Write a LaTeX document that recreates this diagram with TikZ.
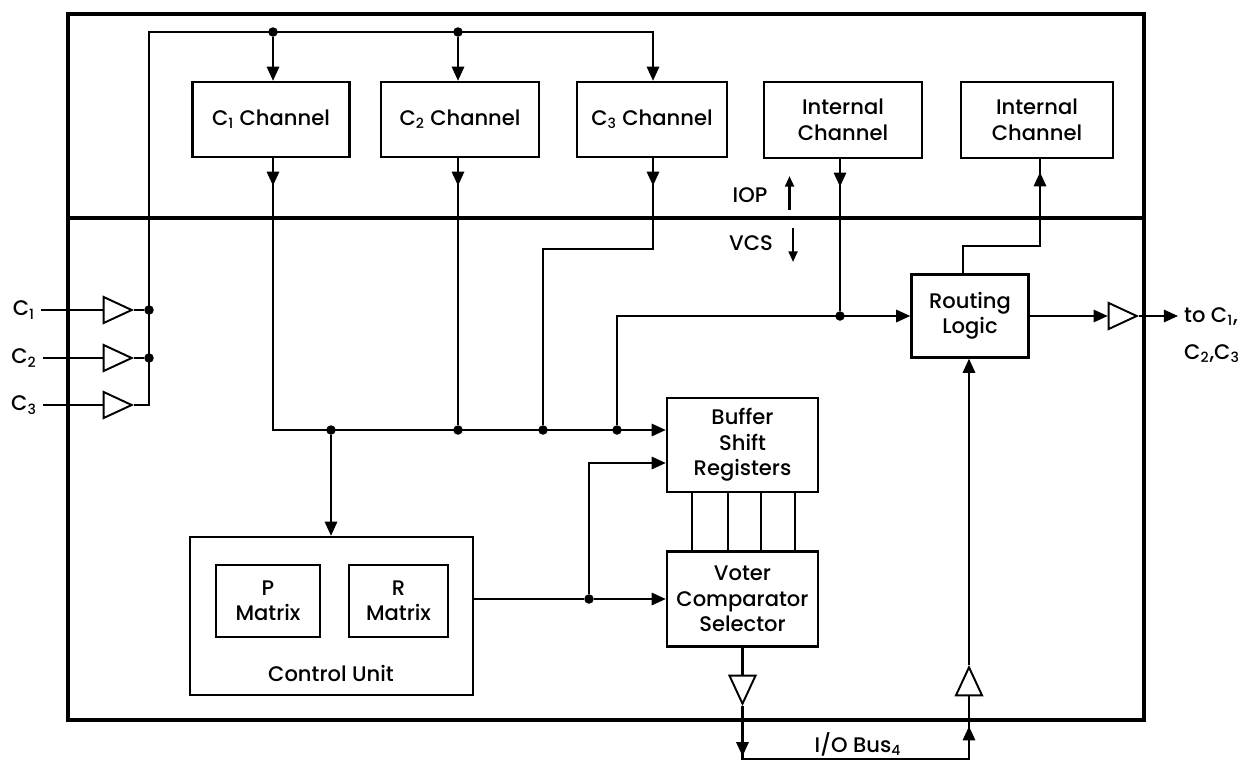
\documentclass[tikz,border=0pt]{standalone}
\usepackage{fontspec}
\setmainfont{Poppins}[UprightFont=* Medium]
\usetikzlibrary{arrows.meta,positioning,calc,shapes.geometric,decorations.markings}

\begin{document}
\begin{tikzpicture}[
  x=0.02cm, y=-0.02cm,
  >={Triangle[length=8pt,width=7pt]},
  blk/.style={draw, line width=1.4pt, align=center, inner sep=2pt,
              font=\fontsize{12}{14.5}\selectfont},
  sz/.style 2 args={minimum width=#1*0.02cm, minimum height=#2*0.02cm},
  wire/.style={line width=1.15pt},
  frm/.style={line width=1.8pt},
  dot/.style={circle, fill, inner sep=0pt, minimum size=0.19cm},
  buf/.style={draw, fill=white, line width=1.1pt, isosceles triangle,
              isosceles triangle stretches, inner sep=0pt,
              minimum width=0.52cm, minimum height=0.56cm},
  lbl/.style={font=\fontsize{12}{14.5}\selectfont, align=left},
  sarr/.style={line width=1.3pt, -{Triangle[length=6pt,width=5pt]}},
  tipat/.style={postaction={decorate}, decoration={markings,
                mark=at position #1 with {\arrow{>}}}},
]
  \useasboundingbox (0,0) rectangle (1245,761);

  %% ── Rahmen IOP / VCS ──
  \draw[frm] (68,14) rectangle (1144,720);
  \draw[frm] (68,218) -- (1144,218);

  %% ── Kanaele ──
  \node[blk, sz={157}{75}] (c1ch) at (271,119.5) {C\textsubscript{1} Channel};
  \node[blk, sz={158}{75}] (c2ch) at (460,119.5) {C\textsubscript{2} Channel};
  \node[blk, sz={150}{75}] (c3ch) at (652,119.5) {C\textsubscript{3} Channel};
  \node[blk, sz={158}{76}] (int1) at (843,120) {Internal\\Channel};
  \node[blk, sz={152}{76}] (int2) at (1037,120) {Internal\\Channel};

  %% ── VCS Bloecke ──
  \node[blk, sz={117}{83}] (route) at (970,316) {Routing\\Logic};
  \node[blk, sz={151}{94}] (bsr) at (742.5,445) {Buffer\\Shift\\Registers};
  \node[blk, sz={151}{95}] (vcs) at (742.5,599) {Voter\\Comparator\\Selector};
  \node[blk, sz={283}{158}] (cu) at (331.5,616) {};
  \node[blk, sz={104}{72}] (pm) at (268,601) {P\\Matrix};
  \node[blk, sz={99}{72}] (rm) at (398.5,601) {R\\Matrix};
  \node[lbl] (cul) at (331,673) {Control Unit};

  %% ── Eingaenge C1..C3 ──
  \node[lbl] (i1) at (24,310) {C\textsubscript{1}};
  \node[lbl] (i2) at (24,358) {C\textsubscript{2}};
  \node[lbl] (i3) at (24,405) {C\textsubscript{3}};
  \node[buf] (b1) at (112,310) {};
  \node[buf] (b2) at (112,358) {};
  \node[buf] (b3) at (112,405) {};
  \node[dot] (j1) at (149,310) {};
  \node[dot] (j2) at (149,358) {};
  \coordinate (busTL) at (149,32);
  \node[dot] (d1) at (273,32) {};
  \node[dot] (d2) at (458,32) {};
  \draw[wire] (i1) -- (b1);
  \draw[wire] (i2) -- (b2);
  \draw[wire] (i3) -- (b3);
  \draw[wire] (b1.apex) -- (j1);
  \draw[wire] (b2.apex) -- (j2);
  \draw[wire,->] (b3.apex) -| (busTL) -| (c3ch.north -| 653,0);
  \draw[wire,->] (d1) -- (c1ch.north -| d1);
  \draw[wire,->] (d2) -- (c2ch.north -| d2);

  %% ── Sammelleitung zu den Puffern ──
  \node[dot] (dA) at (331,430) {};
  \node[dot] (dB) at (458,430) {};
  \node[dot] (dC) at (543,430) {};
  \node[dot] (dD) at (617,430) {};
  \node[dot] (dE) at (840,316) {};
  \node[dot] (dF) at (589,599) {};
  \draw[wire, tipat=0.55cm, ->] (c1ch.south -| d1) |- (bsr.west |- dA);
  \draw[wire, tipat=0.55cm] (c2ch.south -| dB) -- (dB);
  \draw[wire, tipat=0.55cm] (c3ch.south -| 653,0) -- ++(0,91) -| (dC);
  \draw[wire, tipat=0.55cm] (int1.south -| dE) -- (dE);
  \draw[wire,->] (dD) |- (route.west);
  \draw[wire,->] (dA) -- (cu.north -| dA);

  %% ── Steuerwerk zu Voter / Puffer ──
  \draw[wire] (cu.east |- dF) -- (dF);
  \draw[wire,->] (dF) -- (vcs.west);
  \draw[wire,->] (dF) |- ($(bsr.west)+(0,18)$);
  \foreach \xx in {692,728,761,795}
    \draw[wire] (bsr.south -| \xx,0) -- (vcs.north -| \xx,0);

  %% ── Routing Logic Ausgaenge ──
  \node[buf] (bo) at (1117,316) {};
  \node[lbl, anchor=west, font=\fontsize{12}{21}\selectfont] (outl) at (1178,335)
    {to C\textsubscript{1},\\C\textsubscript{2},C\textsubscript{3}};
  \draw[wire,->] (route.east) -- (bo);
  \draw[wire,->] (bo.apex) -- (bo.apex -| outl.west);
  \draw[wire, tipat=-0.26cm] (route.north -| 963,0) -- ++(0,-27) -| (int2.south -| 1040,0);

  %% ── I/O Bus ──
  \node[buf, shape border rotate=270] (bv) at (742.5,684) {};
  \node[buf, shape border rotate=90] (bu) at (969,687) {};
  \coordinate (busBL) at (742.5,759);
  \coordinate (busBR) at (969,759);
  \draw[wire] (vcs.south) -- (bv);
  \draw[wire, postaction={decorate}, decoration={markings,
        mark=at position 1cm with {\arrow{>}},
        mark=at position -0.6cm with {\arrow{>}}}]
    (bv.apex) -- (busBL) -- (busBR) -- (bu);
  \draw[wire,->] (bu.apex) -- (route.south -| bu.apex);
  \node[lbl] (iobus) at (858,744) {I/O Bus\textsubscript{4}};

  %% ── IOP / VCS Richtung ──
  \node[lbl] (iop) at (750,195) {IOP};
  \node[lbl] (vcsl) at (751,243) {VCS};
  \draw[sarr] (iop.east) ++(16,15) -- ++(0,-34);
  \draw[sarr] (vcsl.east) ++(14,-15) -- ++(0,34);
\end{tikzpicture}
\end{document}
